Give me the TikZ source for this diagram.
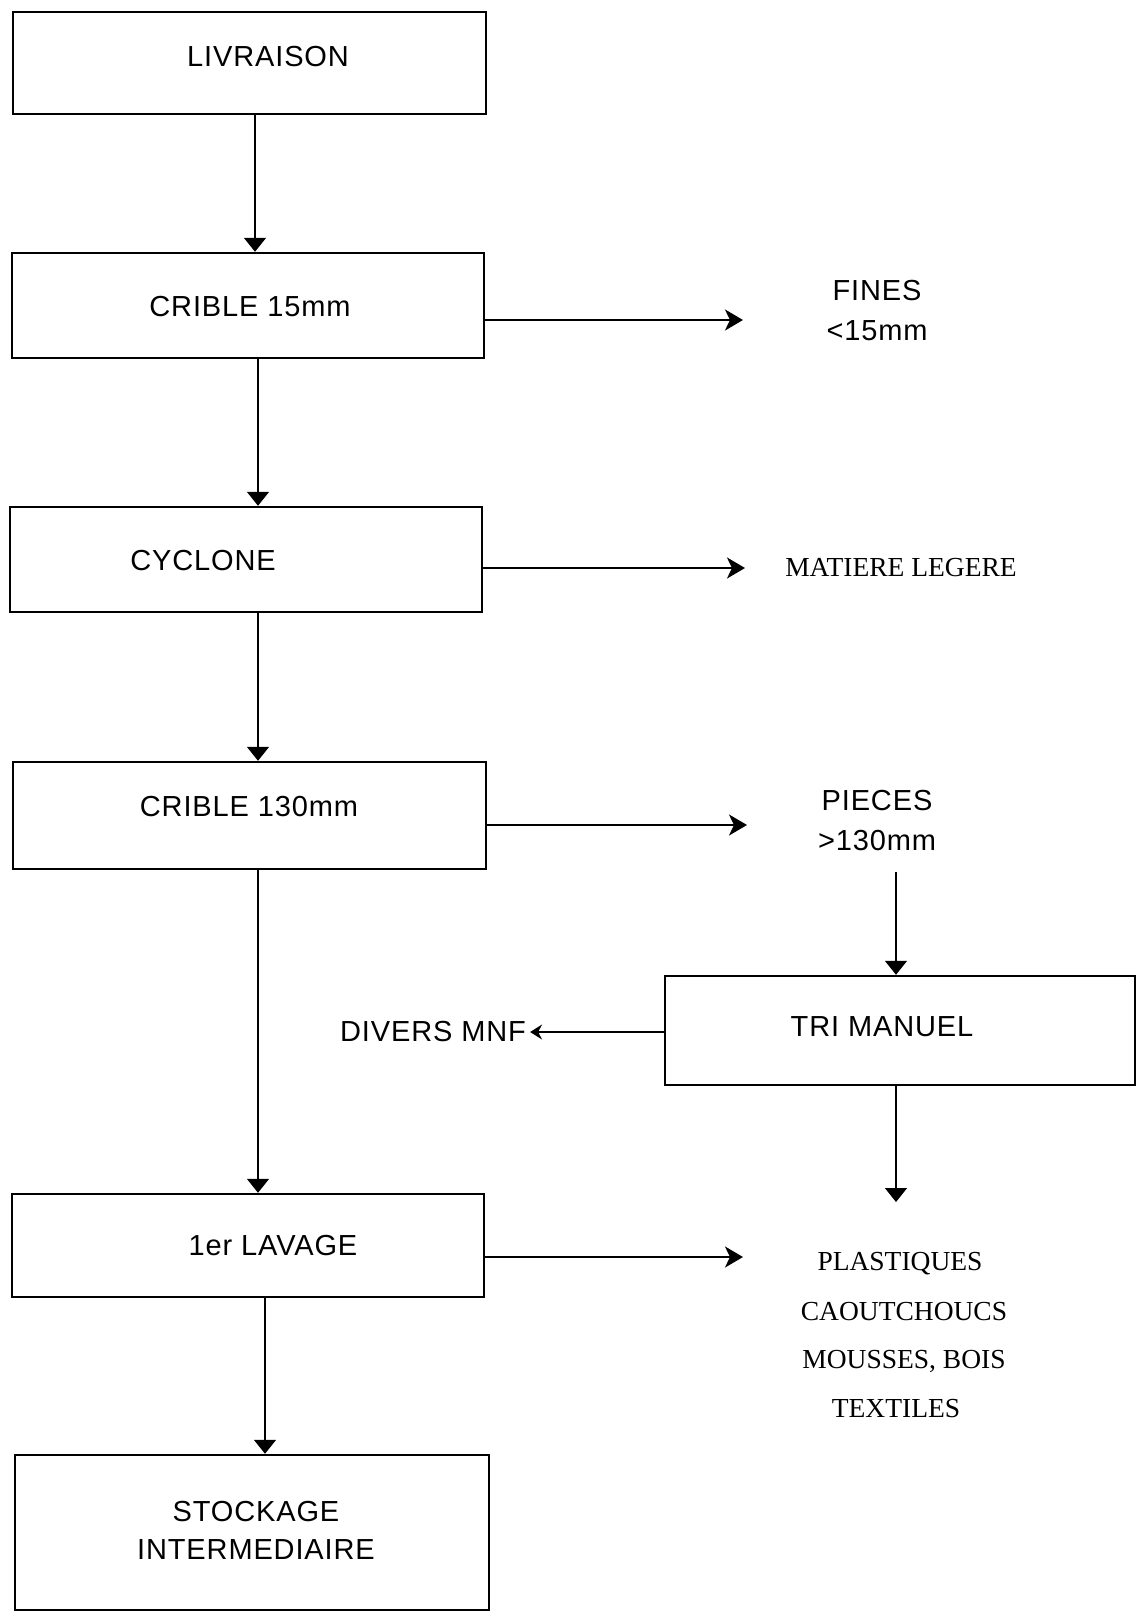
\documentclass[tikz,border=0pt]{standalone}
\usepackage{fontspec}
\setmainfont{Liberation Sans}
\newfontfamily\sansf[LetterSpace=3]{Liberation Sans}
\newfontfamily\seriff{Liberation Serif}
\usetikzlibrary{arrows.meta}
\begin{document}
\begin{tikzpicture}[x=1pt,y=-1pt,
  box/.style={draw, line width=2.4pt, inner sep=0pt},
  txt/.style={font=\sansf\fontsize{29}{34}\selectfont, inner sep=0pt, align=center},
  stxt/.style={font=\seriff\fontsize{27.5}{30}\selectfont, inner sep=0pt, align=center},
  down/.style={line width=1.4pt, -{Triangle[length=14pt,width=22pt]}},
  side/.style={line width=2.2pt, -{Stealth[length=18pt,width=21pt,inset=5pt]}},
  left/.style={line width=1.8pt, -{Stealth[length=12pt,width=15pt,inset=4pt]}}]
\useasboundingbox[fill=white] (0,0) rectangle (1139,1617);

% boxes
\node[box, minimum width=473pt, minimum height=102pt] (liv) at (249.5,63) {};
\node[box, minimum width=472pt, minimum height=105pt] (c15) at (248,305.5) {};
\node[box, minimum width=472pt, minimum height=105pt] (cyc) at (246,559.5) {};
\node[box, minimum width=473pt, minimum height=107pt] (c130) at (249.5,815.5) {};
\node[box, minimum width=470pt, minimum height=109pt] (tri) at (900,1030.5) {};
\node[box, minimum width=472pt, minimum height=103pt] (lav) at (248,1245.5) {};
\node[box, minimum width=474pt, minimum height=155pt] (sto) at (252,1532.5) {};

% box texts
\node[txt] (tliv) at (268,57) {LIVRAISON};
\node[txt] (tc15) at (250,307) {CRIBLE 15mm};
\node[txt] (tcyc) at (203,561) {CYCLONE};
\node[txt] (tc130) at (249,807) {CRIBLE 130mm};
\node[txt] (ttri) at (882,1027) {TRI MANUEL};
\node[txt] (tlav) at (273,1246) {1er LAVAGE};
\node[txt, text depth=0pt] (tsto) at (256,1530) {STOCKAGE\\[4pt]INTERMEDIAIRE};

% outputs
\node[txt] (fines) at (877,311) {FINES\\[6pt]<15mm};
\node[stxt] (mat) at (901,568) {MATIERE LEGERE};
\node[txt] (pieces) at (877,821) {PIECES\\[6pt]>130mm};
\node[txt] (divers) at (433,1032) {DIVERS MNF};
\node[stxt] (plast) at (900,1264) {PLASTIQUES};
\node[stxt] (caou) at (904,1312) {CAOUTCHOUCS};
\node[stxt] (mous) at (904,1361) {MOUSSES, BOIS};
\node[stxt] (text) at (896,1409) {TEXTILES};

% coordinates for free arrow ends
\coordinate (eFines) at (743,320);
\coordinate (eMat) at (745,568);
\coordinate (ePieces) at (747,825);
\coordinate (eLav) at (743,1257);
\coordinate (sPieces) at (896,872);
\coordinate (eTri) at (896,1202);

% vertical main flow
\draw[down] ([xshift=5.5pt]liv.south) -- ([xshift=7pt]c15.north);
\draw[down] ([xshift=10pt]c15.south) -- ([xshift=12pt]cyc.north);
\draw[down] ([xshift=12pt]cyc.south) -- ([xshift=8.5pt]c130.north);
\draw[down] ([xshift=8.5pt]c130.south) -- ([xshift=10pt]lav.north);
\draw[down] ([xshift=17pt]lav.south) -- ([xshift=13pt]sto.north);

% side outputs
\draw[side] (c15.east |- eFines) -- (eFines);
\draw[side] (cyc.east |- eMat) -- (eMat);
\draw[side] (c130.east |- ePieces) -- (ePieces);
\draw[side] (lav.east |- eLav) -- (eLav);

% tri manuel branch
\draw[down] (sPieces) -- (tri.north -| sPieces);
\draw[left] (tri.west |- divers) -- ([xshift=4pt]divers.east);
\draw[down] (tri.south -| eTri) -- (eTri);
\end{tikzpicture}
\end{document}
